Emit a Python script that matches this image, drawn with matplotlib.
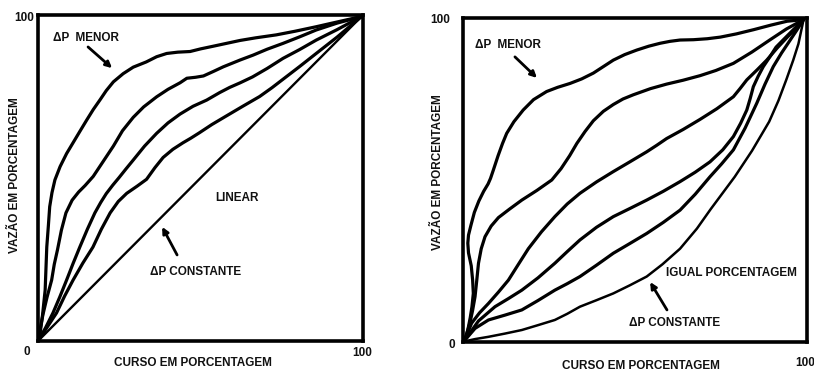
import matplotlib
matplotlib.use("Agg")
import matplotlib.pyplot as plt

plt.rcParams['font.family'] = ['Liberation Sans', 'DejaVu Sans']
plt.rcParams['font.weight'] = 'bold'

# ---- Left chart data (curso %, vazão %) ----
left_c1_x = [0, 0.5, 1.4, 2.2, 2.7, 3.2, 3.6, 4.3, 5.2, 6.8, 8.8, 10.9, 13.0, 15.0, 17.0, 19.1, 21.0, 23.2, 26.2, 29.3, 33.3, 36.5, 39.6, 43.0, 46.8, 50.0, 53.8, 58.0, 62.2, 67.0, 73.3, 79.0, 85.6, 90.0, 94.9, 99.5]
left_c1_y = [0, 1.3, 8.0, 15.6, 28.8, 35.5, 41.2, 45.5, 49.4, 53.5, 57.5, 61.0, 64.5, 67.8, 71.0, 74.0, 76.8, 79.5, 82.0, 84.0, 85.6, 87.2, 88.2, 88.6, 88.8, 89.6, 90.4, 91.3, 92.2, 93.0, 93.9, 95.0, 96.4, 97.4, 98.5, 99.5]

left_c2_x = [0, 1.5, 2.8, 4.2, 5.0, 6.0, 7.2, 8.6, 10.5, 12.5, 14.5, 17.0, 20.0, 23.2, 26.0, 29.3, 32.5, 36.5, 40.0, 43.7, 45.8, 48.5, 50.9, 54.0, 57.0, 62.2, 66.2, 70.5, 75.4, 80.5, 85.6, 92.0, 99.5]
left_c2_y = [0, 8.0, 13.5, 18.7, 23.5, 28.0, 34.0, 39.3, 43.2, 45.7, 47.7, 50.5, 55.0, 59.8, 64.5, 68.6, 71.8, 74.9, 77.2, 79.2, 80.6, 80.9, 81.3, 82.7, 84.1, 86.2, 87.7, 89.5, 91.3, 93.3, 95.4, 97.5, 99.5]

left_c3_x = [0, 2.3, 4.6, 6.7, 8.8, 10.8, 12.9, 15.2, 17.5, 19.3, 21.0, 23.0, 25.0, 27.0, 29.3, 32.8, 36.5, 40.0, 43.7, 47.7, 51.9, 55.9, 59.0, 62.2, 66.0, 70.5, 75.4, 80.5, 85.6, 92.0, 99.5]
left_c3_y = [0, 4.0, 8.6, 13.5, 18.7, 23.8, 28.9, 34.3, 39.3, 42.5, 45.2, 47.8, 50.2, 52.7, 55.5, 59.8, 63.7, 66.9, 69.6, 72.0, 73.9, 76.2, 77.8, 79.2, 81.0, 83.6, 86.7, 89.4, 92.3, 95.5, 99.5]

left_c4_x = [0, 2.8, 5.7, 8.2, 10.8, 13.8, 16.9, 19.5, 22.2, 24.7, 27.3, 30.5, 33.4, 36.0, 38.5, 41.5, 44.6, 47.0, 49.7, 53.5, 57.9, 63.0, 68.2, 72.0, 75.4, 80.5, 85.6, 92.0, 99.5]
left_c4_y = [0, 4.2, 8.6, 13.8, 18.7, 23.9, 28.8, 34.3, 39.3, 42.8, 45.3, 47.5, 49.6, 53.2, 56.3, 58.8, 60.8, 62.2, 63.9, 66.4, 69.0, 72.0, 75.0, 77.7, 80.3, 84.2, 88.2, 93.2, 99.5]

linear_x = [0, 100]
linear_y = [0, 100]

# ---- Right chart data ----
right_a_x = [0.5, 1.4, 2.1, 2.6, 3.0, 2.8, 2.4, 1.6, 1.4, 1.6, 2.3, 3.3, 4.6, 6.0, 7.3, 8.0, 8.8, 10.2, 11.5, 12.7, 14.8, 17.5, 20.5, 24.3, 27.5, 31.1, 34.5, 37.9, 40.8, 43.7, 47.0, 50.5, 54.0, 57.3, 60.2, 63.1, 67.0, 71.0, 74.8, 79.5, 84.5, 89.5, 94.2, 99]
right_a_y = [0.5, 3.7, 7.5, 10.9, 15.0, 19.1, 23.5, 27.5, 30.5, 33.0, 36.0, 40.0, 43.5, 46.5, 48.8, 50.5, 53.0, 57.5, 61.3, 64.4, 68.0, 71.6, 74.8, 77.3, 78.6, 79.8, 81.2, 83.0, 85.0, 87.0, 88.7, 90.1, 91.3, 92.2, 92.8, 93.2, 93.3, 93.6, 94.1, 95.1, 96.4, 97.8, 99.0, 99.5]

right_b_x = [0.5, 1.2, 2.0, 2.8, 3.5, 4.0, 4.5, 5.3, 6.4, 8.2, 10.3, 13.5, 17.1, 21.5, 25.8, 28.5, 31.0, 33.1, 35.5, 37.9, 40.8, 43.7, 46.5, 49.5, 54.5, 59.2, 64.0, 68.9, 73.5, 78.6, 84.0, 89.3, 94.0, 99]
right_b_y = [0.5, 3.0, 5.8, 9.8, 14.0, 19.0, 24.3, 28.8, 32.5, 35.8, 38.4, 41.0, 43.8, 46.8, 50.0, 53.5, 57.5, 61.3, 65.0, 68.3, 71.2, 73.3, 75.0, 76.3, 78.2, 79.6, 80.8, 82.2, 83.8, 86.0, 89.5, 93.3, 96.6, 99.5]

right_c_x = [0.5, 2.5, 4.8, 7.4, 10.3, 13.2, 16.0, 19.0, 22.8, 26.7, 30.3, 34.0, 38.8, 43.7, 48.5, 53.4, 56.3, 59.2, 64.0, 68.9, 73.8, 78.6, 80.6, 82.5, 85.5, 88.3, 91.3, 94.2, 96.8, 99]
right_c_y = [0.5, 5.8, 9.0, 11.9, 15.4, 19.1, 23.8, 28.8, 34.0, 38.7, 42.6, 45.9, 49.4, 52.6, 55.6, 58.7, 60.7, 62.8, 65.6, 68.7, 72.0, 75.7, 78.3, 80.9, 84.0, 87.0, 90.7, 94.0, 96.8, 99.5]

right_d_x = [0.5, 4.5, 9.3, 13.2, 17.1, 21.8, 26.7, 30.3, 34.0, 38.8, 43.7, 48.5, 53.4, 58.2, 63.1, 67.5, 71.8, 75.5, 78.6, 80.7, 82.5, 83.5, 84.4, 85.8, 87.3, 89.2, 91.0, 95.0, 99]
right_d_y = [0.5, 6.5, 10.9, 13.4, 16.0, 19.8, 24.3, 27.9, 31.5, 35.4, 38.7, 41.2, 43.8, 46.5, 49.5, 52.4, 55.6, 59.3, 63.4, 67.5, 71.6, 75.2, 78.8, 82.0, 85.0, 88.0, 91.0, 95.3, 99.5]

right_e_x = [0.5, 3.5, 7.4, 12.2, 17.1, 21.8, 26.7, 30.3, 34.0, 38.8, 43.7, 48.5, 53.4, 58.2, 63.1, 67.5, 71.8, 75.2, 78.6, 82.0, 85.4, 87.8, 90.2, 92.6, 95.0, 97.0, 99]
right_e_y = [0.5, 4.2, 6.8, 8.3, 9.9, 12.8, 16.0, 18.0, 20.2, 23.7, 27.4, 30.4, 33.5, 36.9, 40.7, 45.6, 51.0, 55.0, 59.3, 66.0, 73.7, 79.6, 85.0, 89.2, 93.0, 96.2, 99.5]

right_f_x = [0.5, 3.5, 7.4, 12.2, 17.1, 21.8, 26.7, 30.3, 34.0, 38.8, 43.7, 48.5, 53.4, 58.0, 63.1, 68.0, 72.0, 75.5, 79.0, 84.0, 89.0, 91.7, 94.0, 96.0, 97.5, 99]
right_f_y = [0.2, 0.9, 1.6, 2.6, 3.7, 5.2, 6.8, 8.7, 10.9, 12.9, 15.0, 17.5, 20.2, 24.0, 28.8, 35.0, 41.0, 46.0, 51.0, 59.0, 68.0, 74.5, 81.0, 87.0, 92.0, 99.5]

tick_min = "0"
tick_max = "100"
xlabel = "CURSO EM PORCENTAGEM"
ylabel = "VAZÃO EM PORCENTAGEM"

fig = plt.figure(figsize=(8.14, 3.71), dpi=100)
axL = fig.add_axes([38/814, 1-341/371, 325/814, 326/371])
axR = fig.add_axes([463/814, 1-342/371, 344/814, 324/371])

for ax in (axL, axR):
    ax.set_xlim(0, 100)
    ax.set_ylim(0, 100)
    ax.set_xticks([])
    ax.set_yticks([])
    for s in ax.spines.values():
        s.set_linewidth(2.6)
        s.set_color('black')

kw = dict(color='black', lw=2.3, solid_capstyle='round', solid_joinstyle='round')
axL.plot(left_c1_x, left_c1_y, **kw)
axL.plot(left_c2_x, left_c2_y, **kw)
axL.plot(left_c3_x, left_c3_y, **kw)
axL.plot(left_c4_x, left_c4_y, **kw)
axL.plot(linear_x, linear_y, color='black', lw=1.7)

axR.plot(right_a_x, right_a_y, **kw)
axR.plot(right_b_x, right_b_y, **kw)
axR.plot(right_c_x, right_c_y, **kw)
axR.plot(right_d_x, right_d_y, **kw)
axR.plot(right_e_x, right_e_y, **kw)
axR.plot(right_f_x, right_f_y, color='black', lw=1.8, solid_capstyle='round', solid_joinstyle='round')

fs = 8.5
tkw = dict(fontsize=fs, fontweight='bold', color='#111111')

# Left axis labels
axL.text(-0.043, 0.99, tick_max, transform=axL.transAxes, ha='center', va='center', **tkw)
axL.text(-0.034, -0.034, tick_min, transform=axL.transAxes, ha='center', va='center', **tkw)
axL.text(0.997, -0.037, tick_max, transform=axL.transAxes, ha='center', va='center', **tkw)
axL.text(0.477, -0.068, xlabel, transform=axL.transAxes, ha='center', va='center', **tkw)
axL.text(-0.071, 0.509, ylabel, transform=axL.transAxes, ha='center', va='center', rotation=90, **tkw)

# Right axis labels
axR.text(-0.067, 0.994, tick_max, transform=axR.transAxes, ha='center', va='center', **tkw)
axR.text(-0.032, -0.01, tick_min, transform=axR.transAxes, ha='center', va='center', **tkw)
axR.text(0.965, -0.065, tick_max, transform=axR.transAxes, ha='left', va='center', **tkw)
axR.text(0.517, -0.075, xlabel, transform=axR.transAxes, ha='center', va='center', **tkw)
axR.text(-0.073, 0.525, ylabel, transform=axR.transAxes, ha='center', va='center', rotation=90, **tkw)

akw = dict(arrowstyle='-|>', color='black', lw=2.0, mutation_scale=9, shrinkA=0, shrinkB=0)

# Left annotations
axL.text(0.046, 0.929, "ΔP  MENOR", transform=axL.transAxes, ha='left', va='center', **tkw)
axL.annotate("", xy=(0.228, 0.837), xytext=(0.154, 0.902), xycoords='axes fraction', arrowprops=akw)
axL.text(0.613, 0.439, "LINEAR", transform=axL.transAxes, ha='center', va='center', **tkw)
axL.text(0.486, 0.212, "ΔP CONSTANTE", transform=axL.transAxes, ha='center', va='center', **tkw)
axL.annotate("", xy=(0.382, 0.350), xytext=(0.428, 0.264), xycoords='axes fraction', arrowprops=akw)

# Right annotations
axR.text(0.035, 0.917, "ΔP  MENOR", transform=axR.transAxes, ha='left', va='center', **tkw)
axR.annotate("", xy=(0.215, 0.815), xytext=(0.151, 0.880), xycoords='axes fraction', arrowprops=akw)
axR.text(0.779, 0.213, "IGUAL PORCENTAGEM", transform=axR.transAxes, ha='center', va='center', **tkw)
axR.text(0.616, 0.059, "ΔP CONSTANTE", transform=axR.transAxes, ha='center', va='center', **tkw)
axR.annotate("", xy=(0.544, 0.185), xytext=(0.593, 0.099), xycoords='axes fraction', arrowprops=akw)

fig.savefig("out.png", dpi=100, facecolor='white')
